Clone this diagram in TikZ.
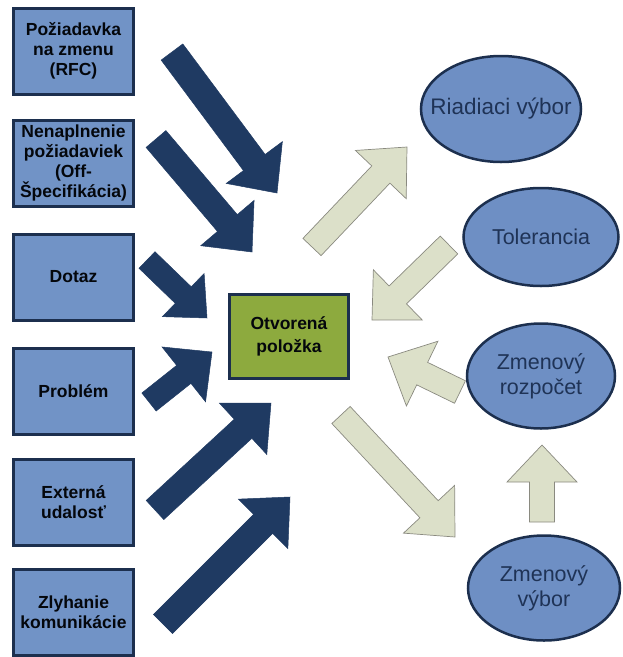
\documentclass[tikz,border=0pt]{standalone}
\usepackage{fontspec}
\setmainfont{Liberation Sans}
\usetikzlibrary{calc,shapes.geometric}
\definecolor{boxfill}{HTML}{7193C6}
\definecolor{navyline}{HTML}{1C2F4E}
\definecolor{darkarrow}{HTML}{1F3A62}
\definecolor{greenfill}{HTML}{8DAA3E}
\definecolor{beige}{HTML}{DCE0C9}
\definecolor{beigeline}{HTML}{8A8A80}
\definecolor{ellfill}{HTML}{6E8FC4}
\definecolor{elltext}{HTML}{1F3356}
\newcommand{\blockarrow}[6]{%
  \coordinate (hb) at ($(#3)!#6!(#2)$);
  \draw[#1] ($(#2)!#4!90:(#3)$) -- ($(hb)!#4!90:(#3)$) -- ($(hb)!#5!90:(#3)$) -- (#3)
    -- ($(hb)!#5!-90:(#3)$) -- ($(hb)!#4!-90:(#3)$) -- ($(#2)!#4!-90:(#3)$) -- cycle;}
\tikzset{
  srcbox/.style={draw=navyline, line width=3pt, fill=boxfill, minimum width=120pt, minimum height=86pt,
    align=center, text=black!85!navyline, font=\fontsize{17.5}{20}\selectfont\bfseries, inner sep=1pt},
  openbox/.style={draw=navyline, line width=3pt, fill=greenfill, minimum width=119pt, minimum height=84pt,
    align=center, text=black!85!navyline, font=\fontsize{17.5}{23}\selectfont\bfseries},
  ell/.style={ellipse, draw=navyline, line width=2.5pt, fill=ellfill, align=center, text=elltext,
    font=\fontsize{21.5}{25}\selectfont, inner sep=0pt},
  darkarr/.style={fill=darkarrow, draw=darkarrow, line width=0.5pt, line join=miter},
  lightarr/.style={fill=beige, draw=beigeline, line width=0.7pt, line join=miter}
}
\begin{document}
\begin{tikzpicture}[x=1pt,y=-1pt]
\useasboundingbox (0,0) rectangle (623,657);
% source boxes
\node[srcbox] (b1) at (73.5,51) {Požiadavka\\na zmenu\\(RFC)};
\node[srcbox] (b2) at (73.5,163) {Nenaplnenie\\požiadaviek\\(Off-\\Špecifikácia)};
\node[srcbox] (b3) at (73.5,277) {Dotaz};
\node[srcbox] (b4) at (73.5,391) {Problém};
\node[srcbox] (b5) at (73.5,502.5) {Externá\\udalosť};
\node[srcbox] (b6) at (73.5,612) {Zlyhanie\\komunikácie};
% center
\node[openbox] (c) at (289,336.5) {Otvorená\\položka};
% ellipses
\node[ell, minimum width=160pt, minimum height=106pt, inner xsep=-30pt, font=\fontsize{22.5}{26}\selectfont] (e1) at (501,109) {Riadiaci výbor};
\node[ell, minimum width=155pt, minimum height=98pt] (e2) at (541,237) {Tolerancia};
\node[ell, minimum width=148pt, minimum height=105pt] (e3) at (541,376) {Zmenový\\rozpočet};
\node[ell, minimum width=152pt, minimum height=105pt] (e4) at (544,588) {Zmenový\\výbor};
% arrow end points
\coordinate (t1) at (172,52);  \coordinate (p1) at (277,193);
\coordinate (t2) at (156,139); \coordinate (p2) at (252,252);
\coordinate (t3) at (147,260); \coordinate (p3) at (207,318);
\coordinate (t4) at (149,402); \coordinate (p4) at (212,352);
\coordinate (t5) at (155,510); \coordinate (p5) at (271,403);
\coordinate (t6) at (163,624); \coordinate (p6) at (290,497);
\coordinate (tA) at (312,247); \coordinate (pA) at (407,147);
\coordinate (tB) at (449,245); \coordinate (pB) at (372,320);
\coordinate (tC) at (460,392); \coordinate (pC) at (388,357);
\coordinate (tD) at (341,415); \coordinate (pD) at (455,537);
\coordinate (tE) at (542,522); \coordinate (pE) at (542,445);
% dark arrows
\blockarrow{darkarr}{t1}{p1}{13.5pt}{35pt}{38pt}
\blockarrow{darkarr}{t2}{p2}{13pt}{35pt}{38pt}
\blockarrow{darkarr}{t3}{p3}{11.5pt}{30pt}{33pt}
\blockarrow{darkarr}{t4}{p4}{11.5pt}{35pt}{36pt}
\blockarrow{darkarr}{t5}{p5}{13pt}{35pt}{38pt}
\blockarrow{darkarr}{t6}{p6}{13.5pt}{35pt}{38pt}
% light arrows
\blockarrow{lightarr}{tA}{pA}{12.5pt}{35pt}{38pt}
\blockarrow{lightarr}{tB}{pB}{12.5pt}{35pt}{36pt}
\blockarrow{lightarr}{tC}{pC}{12.5pt}{36pt}{38pt}
\blockarrow{lightarr}{tD}{pD}{12.5pt}{35pt}{38pt}
\blockarrow{lightarr}{tE}{pE}{12.5pt}{35pt}{37pt}
\end{tikzpicture}
\end{document}
